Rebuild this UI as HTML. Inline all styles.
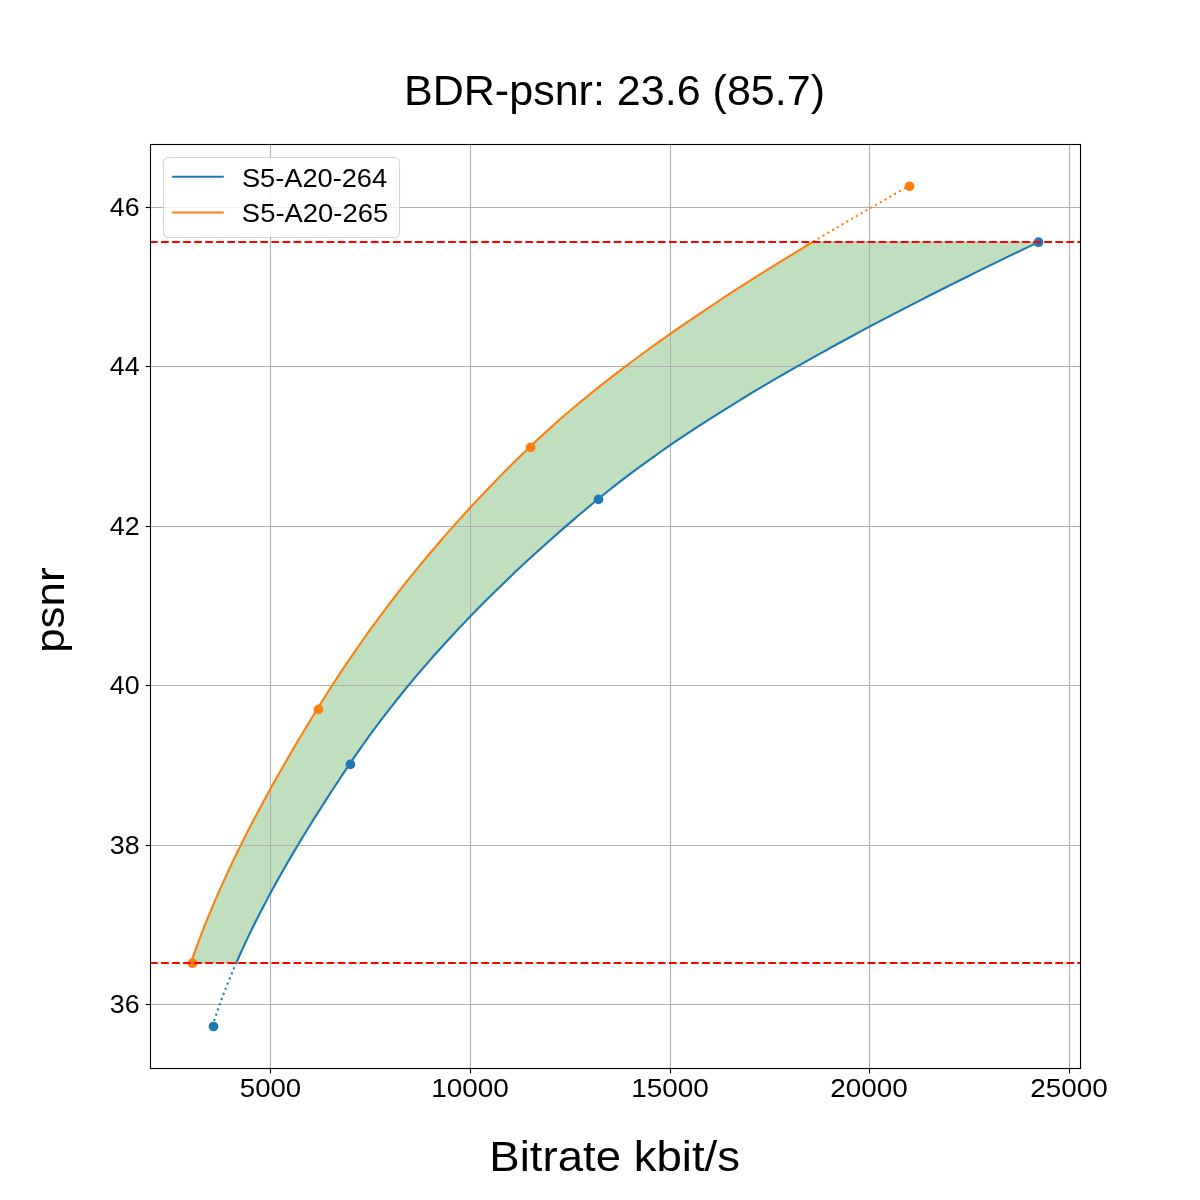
<!DOCTYPE html>
<html><head><meta charset="utf-8"><title>BDR-psnr chart</title>
<style>html,body{margin:0;padding:0;background:#fff;}body{width:1200px;height:1200px;overflow:hidden;font-family:"Liberation Sans",sans-serif;}svg{display:block;will-change:transform;}</style>
</head><body>
<svg width="1200" height="1200" viewBox="0 0 1200 1200">
<rect width="1200" height="1200" fill="#ffffff"/>
<path d="M190.97,962.68 L192.02,959.65 L193.08,956.63 L194.15,953.61 L195.24,950.59 L196.33,947.57 L197.45,944.55 L198.57,941.53 L199.71,938.51 L200.86,935.49 L202.03,932.47 L203.20,929.45 L204.39,926.43 L205.60,923.41 L206.81,920.38 L208.04,917.36 L209.28,914.34 L210.53,911.32 L211.79,908.31 L213.07,905.29 L214.35,902.27 L215.65,899.25 L216.96,896.23 L218.29,893.21 L219.62,890.19 L220.96,887.17 L222.32,884.15 L223.69,881.13 L225.07,878.11 L226.46,875.09 L227.86,872.07 L229.27,869.05 L230.69,866.04 L232.12,863.02 L233.57,860.00 L235.02,856.98 L236.49,853.96 L237.96,850.94 L239.45,847.92 L240.94,844.91 L242.45,841.89 L243.96,838.87 L245.49,835.85 L247.02,832.83 L248.56,829.82 L250.12,826.80 L251.68,823.78 L253.25,820.76 L254.84,817.75 L256.43,814.73 L258.03,811.71 L259.64,808.69 L261.25,805.67 L262.88,802.66 L264.52,799.64 L266.16,796.62 L267.81,793.61 L269.48,790.59 L271.15,787.57 L272.82,784.55 L274.51,781.54 L276.20,778.52 L277.91,775.50 L279.62,772.49 L281.33,769.47 L283.06,766.45 L284.79,763.44 L286.53,760.42 L288.28,757.40 L290.04,754.39 L291.80,751.37 L293.57,748.35 L295.35,745.34 L297.13,742.32 L298.93,739.30 L300.72,736.29 L302.53,733.27 L304.34,730.26 L306.16,727.24 L307.98,724.22 L309.81,721.21 L311.65,718.19 L313.49,715.17 L315.34,712.16 L317.20,709.14 L319.06,706.13 L320.94,703.11 L322.82,700.09 L324.72,697.07 L326.63,694.06 L328.55,691.04 L330.48,688.02 L332.43,685.01 L334.38,681.99 L336.35,678.97 L338.33,675.95 L340.32,672.94 L342.33,669.92 L344.34,666.90 L346.37,663.89 L348.41,660.87 L350.46,657.85 L352.53,654.84 L354.61,651.82 L356.70,648.80 L358.80,645.78 L360.92,642.77 L363.05,639.75 L365.19,636.73 L367.34,633.72 L369.51,630.70 L371.69,627.68 L373.89,624.67 L376.10,621.65 L378.32,618.63 L380.56,615.62 L382.81,612.60 L385.07,609.58 L387.35,606.57 L389.64,603.55 L391.94,600.53 L394.26,597.52 L396.59,594.50 L398.94,591.48 L401.30,588.47 L403.68,585.45 L406.07,582.43 L408.48,579.42 L410.90,576.40 L413.33,573.39 L415.78,570.37 L418.25,567.35 L420.73,564.34 L423.22,561.32 L425.73,558.30 L428.26,555.29 L430.80,552.27 L433.36,549.25 L435.93,546.24 L438.52,543.22 L441.12,540.21 L443.74,537.19 L446.37,534.17 L449.02,531.16 L451.69,528.14 L454.37,525.13 L457.07,522.11 L459.79,519.09 L462.52,516.08 L465.27,513.06 L468.03,510.05 L470.82,507.03 L473.61,504.02 L476.43,501.00 L479.26,497.98 L482.11,494.97 L484.98,491.95 L487.86,488.94 L490.76,485.92 L493.68,482.91 L496.61,479.89 L499.57,476.87 L502.54,473.86 L505.52,470.84 L508.53,467.83 L511.55,464.81 L514.59,461.80 L517.65,458.78 L520.73,455.77 L523.82,452.75 L526.94,449.74 L530.07,446.72 L533.23,443.70 L536.43,440.69 L539.66,437.67 L542.92,434.65 L546.22,431.64 L549.55,428.62 L552.92,425.60 L556.32,422.59 L559.75,419.57 L563.21,416.56 L566.71,413.54 L570.24,410.53 L573.81,407.51 L577.40,404.49 L581.03,401.48 L584.69,398.46 L588.38,395.45 L592.10,392.43 L595.85,389.42 L599.64,386.40 L603.45,383.39 L607.29,380.37 L611.17,377.36 L615.07,374.34 L619.01,371.33 L622.97,368.31 L626.97,365.30 L630.99,362.28 L635.04,359.27 L639.12,356.25 L643.23,353.24 L647.36,350.22 L651.53,347.21 L655.72,344.20 L659.94,341.18 L664.18,338.17 L668.46,335.15 L672.76,332.14 L677.08,329.12 L681.44,326.11 L685.82,323.10 L690.22,320.08 L694.65,317.07 L699.11,314.05 L703.59,311.04 L708.10,308.03 L712.63,305.01 L717.19,302.00 L721.77,298.98 L726.38,295.97 L731.01,292.96 L735.66,289.94 L740.34,286.93 L745.04,283.91 L749.76,280.90 L754.51,277.89 L759.27,274.87 L764.07,271.86 L768.88,268.85 L773.71,265.83 L778.57,262.82 L783.45,259.81 L788.35,256.79 L793.27,253.78 L798.21,250.77 L803.18,247.75 L808.16,244.74 L813.16,241.72 L1038.43,242.05 L1032.13,245.07 L1025.84,248.08 L1019.57,251.09 L1013.33,254.10 L1007.10,257.12 L1000.90,260.13 L994.71,263.14 L988.54,266.16 L982.40,269.17 L976.28,272.18 L970.18,275.20 L964.10,278.21 L958.04,281.23 L952.00,284.24 L945.99,287.25 L940.00,290.27 L934.04,293.28 L928.10,296.29 L922.18,299.31 L916.29,302.32 L910.42,305.33 L904.57,308.35 L898.75,311.36 L892.96,314.37 L887.19,317.39 L881.45,320.40 L875.73,323.41 L870.04,326.43 L864.38,329.44 L858.74,332.45 L853.14,335.47 L847.56,338.48 L842.00,341.49 L836.48,344.51 L830.99,347.52 L825.52,350.54 L820.08,353.55 L814.67,356.56 L809.30,359.58 L803.95,362.59 L798.63,365.60 L793.34,368.62 L788.09,371.63 L782.86,374.65 L777.67,377.66 L772.51,380.67 L767.38,383.69 L762.28,386.70 L757.22,389.71 L752.19,392.73 L747.19,395.74 L742.22,398.76 L737.29,401.77 L732.40,404.78 L727.53,407.80 L722.71,410.81 L717.92,413.83 L713.16,416.84 L708.44,419.86 L703.75,422.87 L699.10,425.88 L694.49,428.90 L689.91,431.91 L685.37,434.93 L680.87,437.94 L676.41,440.96 L671.98,443.97 L667.59,446.98 L663.24,450.00 L658.93,453.01 L654.66,456.03 L650.43,459.04 L646.24,462.06 L642.09,465.07 L637.97,468.09 L633.90,471.10 L629.87,474.12 L625.88,477.13 L621.93,480.15 L618.03,483.16 L614.16,486.18 L610.34,489.19 L606.56,492.21 L602.82,495.22 L599.13,498.24 L595.47,501.25 L591.84,504.27 L588.22,507.28 L584.63,510.30 L581.05,513.31 L577.49,516.33 L573.95,519.34 L570.44,522.36 L566.94,525.37 L563.46,528.39 L560.00,531.40 L556.56,534.42 L553.13,537.43 L549.73,540.45 L546.35,543.46 L542.99,546.48 L539.64,549.49 L536.32,552.51 L533.01,555.52 L529.72,558.54 L526.45,561.55 L523.21,564.57 L519.98,567.58 L516.77,570.60 L513.57,573.61 L510.40,576.63 L507.25,579.64 L504.11,582.66 L501.00,585.67 L497.90,588.69 L494.82,591.70 L491.76,594.72 L488.72,597.73 L485.70,600.75 L482.70,603.76 L479.72,606.78 L476.75,609.79 L473.81,612.81 L470.88,615.83 L467.97,618.84 L465.08,621.86 L462.21,624.87 L459.36,627.89 L456.52,630.90 L453.71,633.92 L450.91,636.93 L448.13,639.95 L445.37,642.97 L442.63,645.98 L439.91,649.00 L437.20,652.01 L434.52,655.03 L431.85,658.05 L429.20,661.06 L426.57,664.08 L423.96,667.09 L421.36,670.11 L418.79,673.13 L416.23,676.14 L413.69,679.16 L411.17,682.17 L408.67,685.19 L406.18,688.21 L403.72,691.22 L401.27,694.24 L398.84,697.26 L396.42,700.27 L394.03,703.29 L391.65,706.31 L389.30,709.32 L386.96,712.34 L384.63,715.36 L382.33,718.37 L380.04,721.39 L377.78,724.41 L375.53,727.42 L373.29,730.44 L371.08,733.46 L368.88,736.47 L366.70,739.49 L364.54,742.51 L362.40,745.52 L360.27,748.54 L358.16,751.56 L356.07,754.58 L354.00,757.59 L351.94,760.61 L349.91,763.63 L347.88,766.64 L345.87,769.66 L343.86,772.67 L341.85,775.69 L339.86,778.71 L337.87,781.72 L335.88,784.74 L333.91,787.75 L331.94,790.77 L329.98,793.79 L328.02,796.80 L326.08,799.82 L324.14,802.83 L322.21,805.85 L320.29,808.87 L318.38,811.88 L316.47,814.90 L314.57,817.91 L312.69,820.93 L310.81,823.95 L308.94,826.96 L307.08,829.98 L305.23,833.00 L303.38,836.01 L301.55,839.03 L299.73,842.05 L297.92,845.06 L296.11,848.08 L294.32,851.10 L292.54,854.11 L290.76,857.13 L289.00,860.15 L287.25,863.16 L285.51,866.18 L283.78,869.20 L282.06,872.22 L280.36,875.23 L278.66,878.25 L276.98,881.27 L275.30,884.28 L273.64,887.30 L271.99,890.32 L270.36,893.34 L268.73,896.36 L267.12,899.37 L265.52,902.39 L263.93,905.41 L262.36,908.43 L260.79,911.44 L259.25,914.46 L257.71,917.48 L256.19,920.50 L254.68,923.52 L253.18,926.54 L251.70,929.55 L250.23,932.57 L248.78,935.59 L247.34,938.61 L245.91,941.63 L244.50,944.65 L243.11,947.67 L241.72,950.69 L240.36,953.71 L239.01,956.72 L237.67,959.74 L236.35,962.76 Z" fill="#008000" fill-opacity="0.25" stroke="#008000" stroke-opacity="0.25" stroke-width="1.389" stroke-linejoin="round"/>
<g stroke="#b0b0b0" stroke-width="1.111"><line x1="270.5" y1="144" x2="270.5" y2="1068"/><line x1="470.5" y1="144" x2="470.5" y2="1068"/><line x1="670.5" y1="144" x2="670.5" y2="1068"/><line x1="869.5" y1="144" x2="869.5" y2="1068"/><line x1="1069.5" y1="144" x2="1069.5" y2="1068"/><line x1="150" y1="207.5" x2="1080" y2="207.5"/><line x1="150" y1="366.5" x2="1080" y2="366.5"/><line x1="150" y1="526.5" x2="1080" y2="526.5"/><line x1="150" y1="685.5" x2="1080" y2="685.5"/><line x1="150" y1="845.5" x2="1080" y2="845.5"/><line x1="150" y1="1004.5" x2="1080" y2="1004.5"/></g>
<g fill="none" stroke-width="2.083" stroke-linejoin="round" stroke-linecap="square">
<path d="M236.35,962.76 L237.67,959.74 L239.01,956.72 L240.36,953.71 L241.72,950.69 L243.11,947.67 L244.50,944.65 L245.91,941.63 L247.34,938.61 L248.78,935.59 L250.23,932.57 L251.70,929.55 L253.18,926.54 L254.68,923.52 L256.19,920.50 L257.71,917.48 L259.25,914.46 L260.79,911.44 L262.36,908.43 L263.93,905.41 L265.52,902.39 L267.12,899.37 L268.73,896.36 L270.36,893.34 L271.99,890.32 L273.64,887.30 L275.30,884.28 L276.98,881.27 L278.66,878.25 L280.36,875.23 L282.06,872.22 L283.78,869.20 L285.51,866.18 L287.25,863.16 L289.00,860.15 L290.76,857.13 L292.54,854.11 L294.32,851.10 L296.11,848.08 L297.92,845.06 L299.73,842.05 L301.55,839.03 L303.38,836.01 L305.23,833.00 L307.08,829.98 L308.94,826.96 L310.81,823.95 L312.69,820.93 L314.57,817.91 L316.47,814.90 L318.38,811.88 L320.29,808.87 L322.21,805.85 L324.14,802.83 L326.08,799.82 L328.02,796.80 L329.98,793.79 L331.94,790.77 L333.91,787.75 L335.88,784.74 L337.87,781.72 L339.86,778.71 L341.85,775.69 L343.86,772.67 L345.87,769.66 L347.88,766.64 L349.91,763.63 L351.94,760.61 L354.00,757.59 L356.07,754.58 L358.16,751.56 L360.27,748.54 L362.40,745.52 L364.54,742.51 L366.70,739.49 L368.88,736.47 L371.08,733.46 L373.29,730.44 L375.53,727.42 L377.78,724.41 L380.04,721.39 L382.33,718.37 L384.63,715.36 L386.96,712.34 L389.30,709.32 L391.65,706.31 L394.03,703.29 L396.42,700.27 L398.84,697.26 L401.27,694.24 L403.72,691.22 L406.18,688.21 L408.67,685.19 L411.17,682.17 L413.69,679.16 L416.23,676.14 L418.79,673.13 L421.36,670.11 L423.96,667.09 L426.57,664.08 L429.20,661.06 L431.85,658.05 L434.52,655.03 L437.20,652.01 L439.91,649.00 L442.63,645.98 L445.37,642.97 L448.13,639.95 L450.91,636.93 L453.71,633.92 L456.52,630.90 L459.36,627.89 L462.21,624.87 L465.08,621.86 L467.97,618.84 L470.88,615.83 L473.81,612.81 L476.75,609.79 L479.72,606.78 L482.70,603.76 L485.70,600.75 L488.72,597.73 L491.76,594.72 L494.82,591.70 L497.90,588.69 L501.00,585.67 L504.11,582.66 L507.25,579.64 L510.40,576.63 L513.57,573.61 L516.77,570.60 L519.98,567.58 L523.21,564.57 L526.45,561.55 L529.72,558.54 L533.01,555.52 L536.32,552.51 L539.64,549.49 L542.99,546.48 L546.35,543.46 L549.73,540.45 L553.13,537.43 L556.56,534.42 L560.00,531.40 L563.46,528.39 L566.94,525.37 L570.44,522.36 L573.95,519.34 L577.49,516.33 L581.05,513.31 L584.63,510.30 L588.22,507.28 L591.84,504.27 L595.47,501.25 L599.13,498.24 L602.82,495.22 L606.56,492.21 L610.34,489.19 L614.16,486.18 L618.03,483.16 L621.93,480.15 L625.88,477.13 L629.87,474.12 L633.90,471.10 L637.97,468.09 L642.09,465.07 L646.24,462.06 L650.43,459.04 L654.66,456.03 L658.93,453.01 L663.24,450.00 L667.59,446.98 L671.98,443.97 L676.41,440.96 L680.87,437.94 L685.37,434.93 L689.91,431.91 L694.49,428.90 L699.10,425.88 L703.75,422.87 L708.44,419.86 L713.16,416.84 L717.92,413.83 L722.71,410.81 L727.53,407.80 L732.40,404.78 L737.29,401.77 L742.22,398.76 L747.19,395.74 L752.19,392.73 L757.22,389.71 L762.28,386.70 L767.38,383.69 L772.51,380.67 L777.67,377.66 L782.86,374.65 L788.09,371.63 L793.34,368.62 L798.63,365.60 L803.95,362.59 L809.30,359.58 L814.67,356.56 L820.08,353.55 L825.52,350.54 L830.99,347.52 L836.48,344.51 L842.00,341.49 L847.56,338.48 L853.14,335.47 L858.74,332.45 L864.38,329.44 L870.04,326.43 L875.73,323.41 L881.45,320.40 L887.19,317.39 L892.96,314.37 L898.75,311.36 L904.57,308.35 L910.42,305.33 L916.29,302.32 L922.18,299.31 L928.10,296.29 L934.04,293.28 L940.00,290.27 L945.99,287.25 L952.00,284.24 L958.04,281.23 L964.10,278.21 L970.18,275.20 L976.28,272.18 L982.40,269.17 L988.54,266.16 L994.71,263.14 L1000.90,260.13 L1007.10,257.12 L1013.33,254.10 L1019.57,251.09 L1025.84,248.08 L1032.13,245.07 L1038.43,242.05" stroke="#1f77b4"/>
<path d="M190.97,962.68 L192.02,959.65 L193.08,956.63 L194.15,953.61 L195.24,950.59 L196.33,947.57 L197.45,944.55 L198.57,941.53 L199.71,938.51 L200.86,935.49 L202.03,932.47 L203.20,929.45 L204.39,926.43 L205.60,923.41 L206.81,920.38 L208.04,917.36 L209.28,914.34 L210.53,911.32 L211.79,908.31 L213.07,905.29 L214.35,902.27 L215.65,899.25 L216.96,896.23 L218.29,893.21 L219.62,890.19 L220.96,887.17 L222.32,884.15 L223.69,881.13 L225.07,878.11 L226.46,875.09 L227.86,872.07 L229.27,869.05 L230.69,866.04 L232.12,863.02 L233.57,860.00 L235.02,856.98 L236.49,853.96 L237.96,850.94 L239.45,847.92 L240.94,844.91 L242.45,841.89 L243.96,838.87 L245.49,835.85 L247.02,832.83 L248.56,829.82 L250.12,826.80 L251.68,823.78 L253.25,820.76 L254.84,817.75 L256.43,814.73 L258.03,811.71 L259.64,808.69 L261.25,805.67 L262.88,802.66 L264.52,799.64 L266.16,796.62 L267.81,793.61 L269.48,790.59 L271.15,787.57 L272.82,784.55 L274.51,781.54 L276.20,778.52 L277.91,775.50 L279.62,772.49 L281.33,769.47 L283.06,766.45 L284.79,763.44 L286.53,760.42 L288.28,757.40 L290.04,754.39 L291.80,751.37 L293.57,748.35 L295.35,745.34 L297.13,742.32 L298.93,739.30 L300.72,736.29 L302.53,733.27 L304.34,730.26 L306.16,727.24 L307.98,724.22 L309.81,721.21 L311.65,718.19 L313.49,715.17 L315.34,712.16 L317.20,709.14 L319.06,706.13 L320.94,703.11 L322.82,700.09 L324.72,697.07 L326.63,694.06 L328.55,691.04 L330.48,688.02 L332.43,685.01 L334.38,681.99 L336.35,678.97 L338.33,675.95 L340.32,672.94 L342.33,669.92 L344.34,666.90 L346.37,663.89 L348.41,660.87 L350.46,657.85 L352.53,654.84 L354.61,651.82 L356.70,648.80 L358.80,645.78 L360.92,642.77 L363.05,639.75 L365.19,636.73 L367.34,633.72 L369.51,630.70 L371.69,627.68 L373.89,624.67 L376.10,621.65 L378.32,618.63 L380.56,615.62 L382.81,612.60 L385.07,609.58 L387.35,606.57 L389.64,603.55 L391.94,600.53 L394.26,597.52 L396.59,594.50 L398.94,591.48 L401.30,588.47 L403.68,585.45 L406.07,582.43 L408.48,579.42 L410.90,576.40 L413.33,573.39 L415.78,570.37 L418.25,567.35 L420.73,564.34 L423.22,561.32 L425.73,558.30 L428.26,555.29 L430.80,552.27 L433.36,549.25 L435.93,546.24 L438.52,543.22 L441.12,540.21 L443.74,537.19 L446.37,534.17 L449.02,531.16 L451.69,528.14 L454.37,525.13 L457.07,522.11 L459.79,519.09 L462.52,516.08 L465.27,513.06 L468.03,510.05 L470.82,507.03 L473.61,504.02 L476.43,501.00 L479.26,497.98 L482.11,494.97 L484.98,491.95 L487.86,488.94 L490.76,485.92 L493.68,482.91 L496.61,479.89 L499.57,476.87 L502.54,473.86 L505.52,470.84 L508.53,467.83 L511.55,464.81 L514.59,461.80 L517.65,458.78 L520.73,455.77 L523.82,452.75 L526.94,449.74 L530.07,446.72 L533.23,443.70 L536.43,440.69 L539.66,437.67 L542.92,434.65 L546.22,431.64 L549.55,428.62 L552.92,425.60 L556.32,422.59 L559.75,419.57 L563.21,416.56 L566.71,413.54 L570.24,410.53 L573.81,407.51 L577.40,404.49 L581.03,401.48 L584.69,398.46 L588.38,395.45 L592.10,392.43 L595.85,389.42 L599.64,386.40 L603.45,383.39 L607.29,380.37 L611.17,377.36 L615.07,374.34 L619.01,371.33 L622.97,368.31 L626.97,365.30 L630.99,362.28 L635.04,359.27 L639.12,356.25 L643.23,353.24 L647.36,350.22 L651.53,347.21 L655.72,344.20 L659.94,341.18 L664.18,338.17 L668.46,335.15 L672.76,332.14 L677.08,329.12 L681.44,326.11 L685.82,323.10 L690.22,320.08 L694.65,317.07 L699.11,314.05 L703.59,311.04 L708.10,308.03 L712.63,305.01 L717.19,302.00 L721.77,298.98 L726.38,295.97 L731.01,292.96 L735.66,289.94 L740.34,286.93 L745.04,283.91 L749.76,280.90 L754.51,277.89 L759.27,274.87 L764.07,271.86 L768.88,268.85 L773.71,265.83 L778.57,262.82 L783.45,259.81 L788.35,256.79 L793.27,253.78 L798.21,250.77 L803.18,247.75 L808.16,244.74 L813.16,241.72" stroke="#ff7f0e"/>
</g>
<g fill="none" stroke-width="2.083" stroke-linecap="butt" stroke-dasharray="2.083 3.438">
<path d="M212.38,1026.14 L213.08,1023.96 L213.79,1021.77 L214.50,1019.59 L215.23,1017.40 L215.97,1015.21 L216.72,1013.03 L217.47,1010.84 L218.24,1008.66 L219.01,1006.47 L219.80,1004.28 L220.59,1002.10 L221.39,999.91 L222.20,997.73 L223.02,995.54 L223.85,993.36 L224.69,991.17 L225.53,988.98 L226.39,986.80 L227.25,984.61 L228.12,982.43 L229.00,980.24 L229.89,978.06 L230.79,975.87 L231.70,973.69 L232.61,971.50 L233.53,969.32 L234.46,967.13 L235.40,964.95 L236.35,962.76" stroke="#1f77b4"/>
<path d="M813.16,241.72 L816.37,239.80 L819.59,237.87 L822.81,235.95 L826.04,234.02 L829.28,232.10 L832.53,230.17 L835.79,228.25 L839.05,226.32 L842.32,224.40 L845.60,222.47 L848.88,220.54 L852.18,218.62 L855.48,216.69 L858.79,214.77 L862.10,212.84 L865.43,210.92 L868.76,208.99 L872.09,207.07 L875.44,205.14 L878.79,203.22 L882.15,201.29 L885.52,199.37 L888.89,197.44 L892.27,195.52 L895.66,193.59 L899.05,191.66 L902.45,189.74 L905.85,187.81 L909.27,185.89" stroke="#ff7f0e"/>
</g>
<g fill="#1f77b4"><circle cx="213.50" cy="1026.50" r="4.861"/><circle cx="350.40" cy="764.40" r="4.861"/><circle cx="598.50" cy="499.40" r="4.861"/><circle cx="1038.50" cy="242.20" r="4.861"/></g><g fill="#ff7f0e"><circle cx="192.50" cy="963.20" r="4.861"/><circle cx="318.50" cy="709.40" r="4.861"/><circle cx="530.60" cy="447.40" r="4.861"/><circle cx="909.50" cy="186.30" r="4.861"/></g>
<g stroke="#ff0000" stroke-width="2.083" stroke-dasharray="7.708 3.333"><line x1="150" y1="242.0" x2="1080" y2="242.0"/><line x1="150" y1="963.0" x2="1080" y2="963.0"/></g>
<rect x="150.5" y="144.5" width="930" height="924" fill="none" stroke="#000" stroke-width="1.111" stroke-linejoin="miter"/>
<g stroke="#000" stroke-width="1.111"><line x1="270.5" y1="1068.5" x2="270.5" y2="1073.36"/><line x1="470.5" y1="1068.5" x2="470.5" y2="1073.36"/><line x1="670.5" y1="1068.5" x2="670.5" y2="1073.36"/><line x1="869.5" y1="1068.5" x2="869.5" y2="1073.36"/><line x1="1069.5" y1="1068.5" x2="1069.5" y2="1073.36"/><line x1="150.5" y1="207.5" x2="145.64" y2="207.5"/><line x1="150.5" y1="366.5" x2="145.64" y2="366.5"/><line x1="150.5" y1="526.5" x2="145.64" y2="526.5"/><line x1="150.5" y1="685.5" x2="145.64" y2="685.5"/><line x1="150.5" y1="845.5" x2="145.64" y2="845.5"/><line x1="150.5" y1="1004.5" x2="145.64" y2="1004.5"/></g>
<text x="614.49" y="105.00" font-family="Liberation Sans, sans-serif" font-size="42" text-anchor="middle" textLength="420.98" lengthAdjust="spacingAndGlyphs">BDR-psnr: 23.6 (85.7)</text>
<text x="614.68" y="1171.00" font-family="Liberation Sans, sans-serif" font-size="42.5" text-anchor="middle" textLength="250.62" lengthAdjust="spacingAndGlyphs">Bitrate kbit/s</text>
<text transform="translate(64.20,610.09) rotate(-90)" font-family="Liberation Sans, sans-serif" font-size="41" text-anchor="middle" textLength="85.47" lengthAdjust="spacingAndGlyphs">psnr</text>
<text x="270.49" y="1096.80" font-family="Liberation Sans, sans-serif" font-size="25.3" text-anchor="middle" textLength="61.32" lengthAdjust="spacingAndGlyphs">5000</text>
<text x="469.95" y="1096.80" font-family="Liberation Sans, sans-serif" font-size="25.3" text-anchor="middle" textLength="77.60" lengthAdjust="spacingAndGlyphs">10000</text>
<text x="669.95" y="1096.80" font-family="Liberation Sans, sans-serif" font-size="25.3" text-anchor="middle" textLength="77.60" lengthAdjust="spacingAndGlyphs">15000</text>
<text x="868.99" y="1096.80" font-family="Liberation Sans, sans-serif" font-size="25.3" text-anchor="middle" textLength="77.50" lengthAdjust="spacingAndGlyphs">20000</text>
<text x="1068.99" y="1096.80" font-family="Liberation Sans, sans-serif" font-size="25.3" text-anchor="middle" textLength="77.50" lengthAdjust="spacingAndGlyphs">25000</text>
<text x="139.58" y="216.10" font-family="Liberation Sans, sans-serif" font-size="25.3" text-anchor="end" textLength="29.77" lengthAdjust="spacingAndGlyphs">46</text>
<text x="139.56" y="375.10" font-family="Liberation Sans, sans-serif" font-size="25.3" text-anchor="end" textLength="29.73" lengthAdjust="spacingAndGlyphs">44</text>
<text x="139.58" y="535.10" font-family="Liberation Sans, sans-serif" font-size="25.3" text-anchor="end" textLength="29.77" lengthAdjust="spacingAndGlyphs">42</text>
<text x="139.58" y="694.10" font-family="Liberation Sans, sans-serif" font-size="25.3" text-anchor="end" textLength="29.77" lengthAdjust="spacingAndGlyphs">40</text>
<text x="139.58" y="854.10" font-family="Liberation Sans, sans-serif" font-size="25.3" text-anchor="end" textLength="29.81" lengthAdjust="spacingAndGlyphs">38</text>
<text x="139.58" y="1013.10" font-family="Liberation Sans, sans-serif" font-size="25.3" text-anchor="end" textLength="29.81" lengthAdjust="spacingAndGlyphs">36</text>
<g>
<rect x="163.6" y="157.5" width="235.9" height="80" rx="5" ry="5" fill="#ffffff" fill-opacity="0.8" stroke="#cccccc" stroke-opacity="0.8" stroke-width="1.111"/>
<line x1="172.1" y1="176.7" x2="223.8" y2="176.7" stroke="#1f77b4" stroke-width="2.083" stroke-linecap="butt"/>
<line x1="172.1" y1="212.5" x2="223.8" y2="212.5" stroke="#ff7f0e" stroke-width="2.083" stroke-linecap="butt"/>
<text x="241.90" y="186.50" font-family="Liberation Sans, sans-serif" font-size="25.5" text-anchor="start" textLength="145.24" lengthAdjust="spacingAndGlyphs">S5-A20-264</text>
<text x="241.88" y="221.90" font-family="Liberation Sans, sans-serif" font-size="25.5" text-anchor="start" textLength="146.27" lengthAdjust="spacingAndGlyphs">S5-A20-265</text>
</g>
</svg>
</body></html>
